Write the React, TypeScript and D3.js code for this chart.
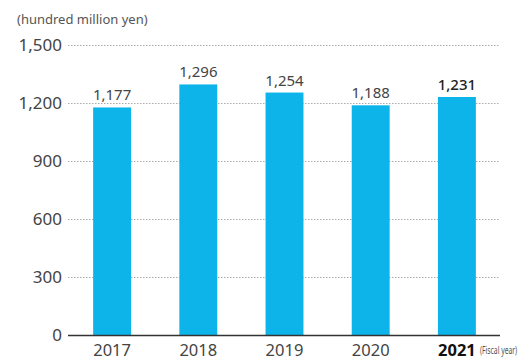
import React from "react";
import * as d3 from "d3";

const years = ["2017", "2018", "2019", "2020", "2021"];
const values = [1177, 1296, 1254, 1188, 1231];
const yTicks = [0, 300, 600, 900, 1200, 1500];

export default function App() {
  const W = 522, H = 361;
  const left = 68, right = 500, top = 45, bottom = 335;
  const x = d3.scaleBand<string>().domain(years).range([69, 500]).paddingInner(0.56).paddingOuter(0.28);
  const y = d3.scaleLinear().domain([0, 1500]).range([bottom, top]);
  const fmt = d3.format(",");
  const font = "'Noto Sans', 'Open Sans', sans-serif";
  return (
    <svg width={W} height={H} style={{ position: "absolute", left: 0, top: 0, background: "#fff" }} fontFamily={font}>
      <text x={17} y={24} fontSize={13} fill="#555">(hundred million yen)</text>
      {yTicks.map((t) => (
        <g key={t}>
          {t > 0 && (
            <line x1={left} x2={right} y1={y(t) + 0.5} y2={y(t) + 0.5} stroke="#aaa" strokeWidth={1} strokeDasharray="1.5,1.5" />
          )}
          <text x={62} y={y(t) + 6} textAnchor="end" fontSize={17} fill="#444">{fmt(t)}</text>
        </g>
      ))}
      {values.map((v, i) => (
        <g key={years[i]}>
          <rect x={x(years[i])} y={y(v)} width={x.bandwidth()} height={bottom - y(v)} fill="#0db4e9" />
          <text x={(x(years[i]) as number) + x.bandwidth() / 2} y={y(v) - 7} textAnchor="middle" fontSize={15}
            fill={i === 4 ? "#222" : "#444"} fontWeight={i === 4 ? 500 : 400}>{fmt(v)}</text>
          <text x={(x(years[i]) as number) + x.bandwidth() / 2} y={356} textAnchor="middle" fontSize={16.5}
            fill={i === 4 ? "#111" : "#444"} fontWeight={i === 4 ? 700 : 400}>{years[i]}</text>
        </g>
      ))}
      <line x1={left} x2={right} y1={bottom + 0.5} y2={bottom + 0.5} stroke="#333" strokeWidth={1.5} />
      <text transform="translate(480,354) scale(0.68,1)" fontSize={10} fill="#555">(Fiscal year)</text>
    </svg>
  );
}
